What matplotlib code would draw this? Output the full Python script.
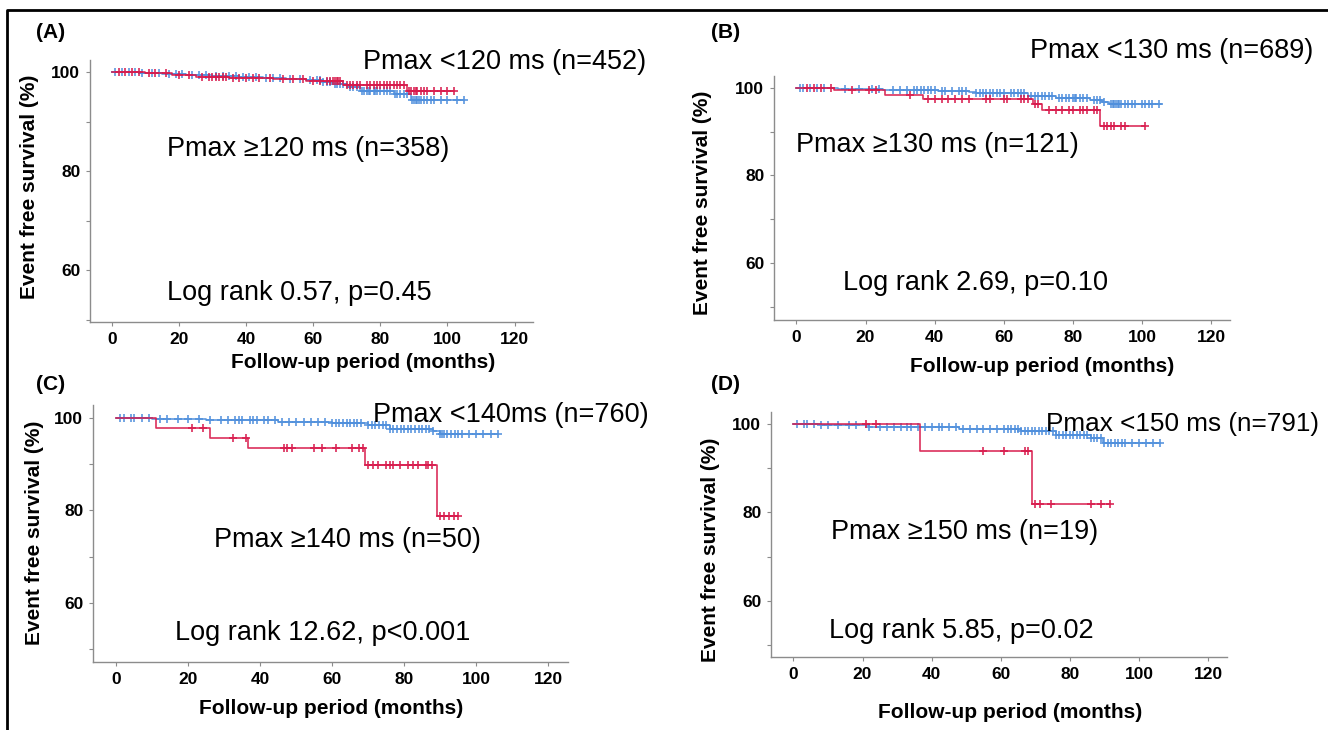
import numpy as np
import matplotlib
matplotlib.use('Agg')
import matplotlib.pyplot as plt
from matplotlib.lines import Line2D

plt.rcParams['font.family'] = ['Liberation Sans', 'DejaVu Sans']

# ---- Kaplan-Meier curves (months, % event free) ----
# panel A
a_blue_t = [0, 8, 15, 22, 30, 38, 45, 52, 58, 63, 66, 70, 74, 84, 89]
a_blue_s = [100, 99.8, 99.6, 99.4, 99.2, 99.0, 98.8, 98.6, 98.4, 98.1, 97.7, 97.1, 96.3, 95.6, 94.5]
a_blue_end = 105
a_blue_cens = [1, 3, 5, 7, 9, 12, 14, 17, 19, 21, 24, 26, 28, 31, 33, 35, 37, 39, 41, 43, 46, 48,
               50, 53, 56, 59, 61, 62, 63, 64, 65, 66.5, 67, 68, 69, 71, 72, 73, 74.5, 75, 76,
               76.5, 77, 78, 78.5, 79, 80, 81, 82, 83, 84.5, 85, 86, 87, 88, 89.5, 90, 90.5, 91,
               91.5, 92, 93, 94, 95, 96, 98, 100, 103, 105]
a_red_t = [0, 10, 18, 25, 35, 48, 58, 69, 88]
a_red_s = [100, 99.8, 99.5, 99.1, 98.9, 98.6, 98.3, 97.5, 96.3]
a_red_end = 102
a_red_cens = [2, 4, 6, 8, 11, 13, 16, 20, 23, 27, 29, 30, 31, 32, 33, 34, 36, 38, 40, 42, 44, 47,
              51, 54, 57, 60, 62, 64, 65, 66, 66.5, 67, 67.5, 68, 70, 71, 72, 73, 74, 76, 77, 78,
              79, 80, 81, 82, 83, 84, 85, 86, 87, 88.5, 89, 90, 90.5, 91, 92, 93, 94, 96, 98,
              100, 102]

# panel B
b_blue_t = [0, 12, 25, 41, 50, 52, 67, 75, 85, 88.5, 90.5]
b_blue_s = [100, 99.8, 99.5, 99.2, 99.0, 98.8, 98.2, 97.7, 97.2, 96.7, 96.2]
b_blue_end = 105.5
b_blue_cens = [1, 2, 4, 6, 8, 14, 18, 22, 24, 28, 30, 32, 34, 35, 36, 37, 38, 39, 40, 42, 43, 45,
               47, 48, 49, 52, 53, 54, 55, 56, 57, 58, 59, 60, 62, 63, 64, 65, 66, 68, 69, 70, 71,
               72, 73, 74, 76, 77, 78, 79, 80, 80.5, 81, 82, 83, 84, 86, 87, 88, 89, 91, 91.5, 92,
               92.5, 93, 93.5, 94, 95, 96, 97, 98, 100, 101, 102, 103, 105]
b_red_t = [0, 11, 25.5, 36.6, 68.5, 71, 88]
b_red_s = [100, 99.4, 98.3, 97.4, 96.3, 94.9, 91.2]
b_red_end = 101
b_red_cens = [3, 5, 7, 10, 16, 21, 23, 33, 38, 40, 42, 44, 46, 48, 50, 55, 56, 60, 61, 65, 66, 67,
              69, 70, 73, 75, 77, 79, 80, 82, 83, 84, 86, 87, 89, 90, 91, 92, 94, 95, 101]

# panel C
c_blue_t = [0, 10, 25, 45, 60, 70, 76, 88, 90]
c_blue_s = [100, 99.8, 99.5, 99.2, 98.9, 98.4, 97.7, 97.2, 96.5]
c_blue_end = 106
c_blue_cens = [1, 2, 4, 5, 7, 9, 12, 14, 17, 20, 23, 26, 29, 31, 33, 34, 35, 37, 38, 39, 41, 42,
               44, 46, 48, 50, 52, 54, 56, 58, 60, 61, 62, 63, 64, 65, 66, 67, 68, 70, 71, 72,
               73, 74, 75, 76, 77, 78, 79, 80, 81, 82, 83, 84, 85, 86, 87, 88, 90, 90.5, 91, 92,
               93, 94, 95, 96, 98, 100, 102, 104, 106]
c_red_t = [0, 11, 26, 36.7, 69, 89]
c_red_s = [100, 97.8, 95.7, 93.6, 89.9, 78.7]
c_red_end = 95
c_red_cens = [21, 24, 32.5, 36, 46.5, 47.3, 48.7, 55, 57, 61, 65.5, 67.5, 68.5, 69.8, 71.2, 72.6,
              74.9, 76, 76.8, 78.8, 81, 82.5, 83.9, 85.9, 86.7, 87.6, 90, 91, 92.4, 93.8, 95]

# panel D
d_blue_t = [0, 8, 22, 48, 66, 76, 86, 89.5]
d_blue_s = [100, 99.8, 99.4, 98.9, 98.3, 97.5, 96.8, 95.8]
d_blue_end = 106
d_blue_cens = [1, 3, 4, 6, 8, 10, 13, 16, 18, 22, 25, 27, 29, 31, 33, 34, 36, 38, 40, 42, 43, 45,
               47, 49, 51, 53, 55, 57, 59, 61, 62, 63, 64, 65, 66, 67, 68, 69, 70, 71, 72, 73, 74,
               75, 76, 77, 78, 79, 80, 81, 82, 83, 84, 85, 86, 87, 88, 89, 90, 91, 92, 93, 94, 95,
               96, 98, 100, 102, 104, 106]
d_red_t = [0, 36.7, 69]
d_red_s = [100, 93.9, 82.0]
d_red_end = 91.7
d_red_cens = [21, 24, 55, 61, 67, 68, 70, 71.5, 74.5, 86, 89, 91.5]

panel_letters = ['(A)', '(B)', '(C)', '(D)']
upper_labels = ['Pmax <120 ms (n=452)', 'Pmax <130 ms (n=689)',
                'Pmax <140ms (n=760)', 'Pmax <150 ms (n=791)']
lower_labels = ['Pmax \u2265120 ms (n=358)', 'Pmax \u2265130 ms (n=121)',
                'Pmax \u2265140 ms (n=50)', 'Pmax \u2265150 ms (n=19)']
logrank_labels = ['Log rank 0.57, p=0.45', 'Log rank 2.69, p=0.10',
                  'Log rank 12.62, p<0.001', 'Log rank 5.85, p=0.02']
x_ticks = [0, 20, 40, 60, 80, 100, 120]
y_ticks = [60, 80, 100]

BLUE = '#4f8fdc'
RED = '#d8194b'
GREY = '#8c8c8c'

W, H = 1328, 730
fig = plt.figure(figsize=(W / 100, H / 100), dpi=100)


def px(x, y):
    return x / W, 1 - y / H


def km(ax, t, s, end, cens, color):
    xs = list(t) + [end]
    ys = list(s) + [s[-1]]
    ax.plot(xs, ys, drawstyle='steps-post', color=color, lw=1.2, alpha=0.9)
    idx = np.searchsorted(np.array(t), np.array(cens), side='right') - 1
    ax.plot(cens, np.array(s)[idx], ls='none', marker='+', ms=6, mew=1.3,
            color=color, alpha=0.85)


# axes boxes in pixels: left, top, right, bottom
boxes = [(90, 60, 533, 322), (774, 76, 1230, 320),
         (93, 405, 568, 662), (771, 412, 1227, 657)]
ylims = [(49.5, 102.5), (47, 102.7), (47.2, 102.8), (47.3, 102.7)]

curves = [
    (a_blue_t, a_blue_s, a_blue_end, a_blue_cens, a_red_t, a_red_s, a_red_end, a_red_cens),
    (b_blue_t, b_blue_s, b_blue_end, b_blue_cens, b_red_t, b_red_s, b_red_end, b_red_cens),
    (c_blue_t, c_blue_s, c_blue_end, c_blue_cens, c_red_t, c_red_s, c_red_end, c_red_cens),
    (d_blue_t, d_blue_s, d_blue_end, d_blue_cens, d_red_t, d_red_s, d_red_end, d_red_cens),
]

# text positions (data coords): upper label, lower label, log rank
txt_pos = [
    ((74.8, 102.1), (16.3, 84.4), (16.3, 55.4)),
    ((67.7, 108.3), (0.0, 87.0), (13.4, 55.4)),
    ((71.2, 100.6), (27.0, 73.5), (16.4, 53.5)),
    ((73.0, 100.0), (10.9, 75.5), (10.2, 53.2)),
]
upper_sizes = [19.5, 19.5, 19.5, 18.8]
letter_px = [(36, 33), (711, 33), (36, 385), (711, 385)]
ylabel_px = [(30, 187), (703, 203), (35, 533), (710, 550)]
xlabel_px = [(363, 362), (1042, 367), (331, 708), (1010, 713)]

for i in range(4):
    l, t, r, b = boxes[i]
    x0, y1 = px(l, t)
    x1, y0 = px(r, b)
    ax = fig.add_axes([x0, y0, x1 - x0, y1 - y0])
    bt, bs, be, bc, rt, rs, re_, rc = curves[i]
    km(ax, bt, bs, be, bc, BLUE)
    km(ax, rt, rs, re_, rc, RED)

    ax.set_xlim(-6.5, 125.5)
    ax.set_ylim(*ylims[i])
    ax.set_xticks(x_ticks)
    ax.set_yticks(y_ticks)
    ax.set_yticks([50, 70, 90], minor=True)
    ax.set_xticklabels([str(v) for v in x_ticks], fontweight='bold', fontsize=12.5)
    ax.set_yticklabels([str(v) for v in y_ticks], fontweight='bold', fontsize=12.5)
    ax.tick_params(which='both', direction='out', length=3, width=0.8, color=GREY, pad=4)
    for side in ['top', 'right']:
        ax.spines[side].set_visible(False)
    for side in ['left', 'bottom']:
        ax.spines[side].set_color(GREY)
        ax.spines[side].set_linewidth(1.0)

    up, low, lr = txt_pos[i]
    ax.text(up[0], up[1], upper_labels[i], fontsize=upper_sizes[i], va='center', ha='left',
            clip_on=False)
    ax.text(low[0], low[1], lower_labels[i], fontsize=19.5, va='center', ha='left')
    ax.text(lr[0], lr[1], logrank_labels[i], fontsize=19.5, va='center', ha='left')

    lx, ly = px(*letter_px[i])
    fig.text(lx, ly, panel_letters[i], fontsize=15, fontweight='bold', va='center', ha='left')
    yx, yy = px(*ylabel_px[i])
    fig.text(yx, yy, 'Event free survival (%)', fontsize=15, fontweight='bold',
             rotation=90, va='center', ha='center')
    xx, xy = px(*xlabel_px[i])
    fig.text(xx, xy, 'Follow-up period (months)', fontsize=15, fontweight='bold',
             va='center', ha='center')

# outer frame (left and top edges visible)
fx0, fy0 = px(7, 740)
fx1, fy1 = px(7, 10)
fx2, _ = px(1340, 10)
fig.add_artist(Line2D([fx0, fx1, fx2], [fy0, fy1, fy1], color='black', lw=2,
                      transform=fig.transFigure))

fig.savefig('out.png', dpi=100)
